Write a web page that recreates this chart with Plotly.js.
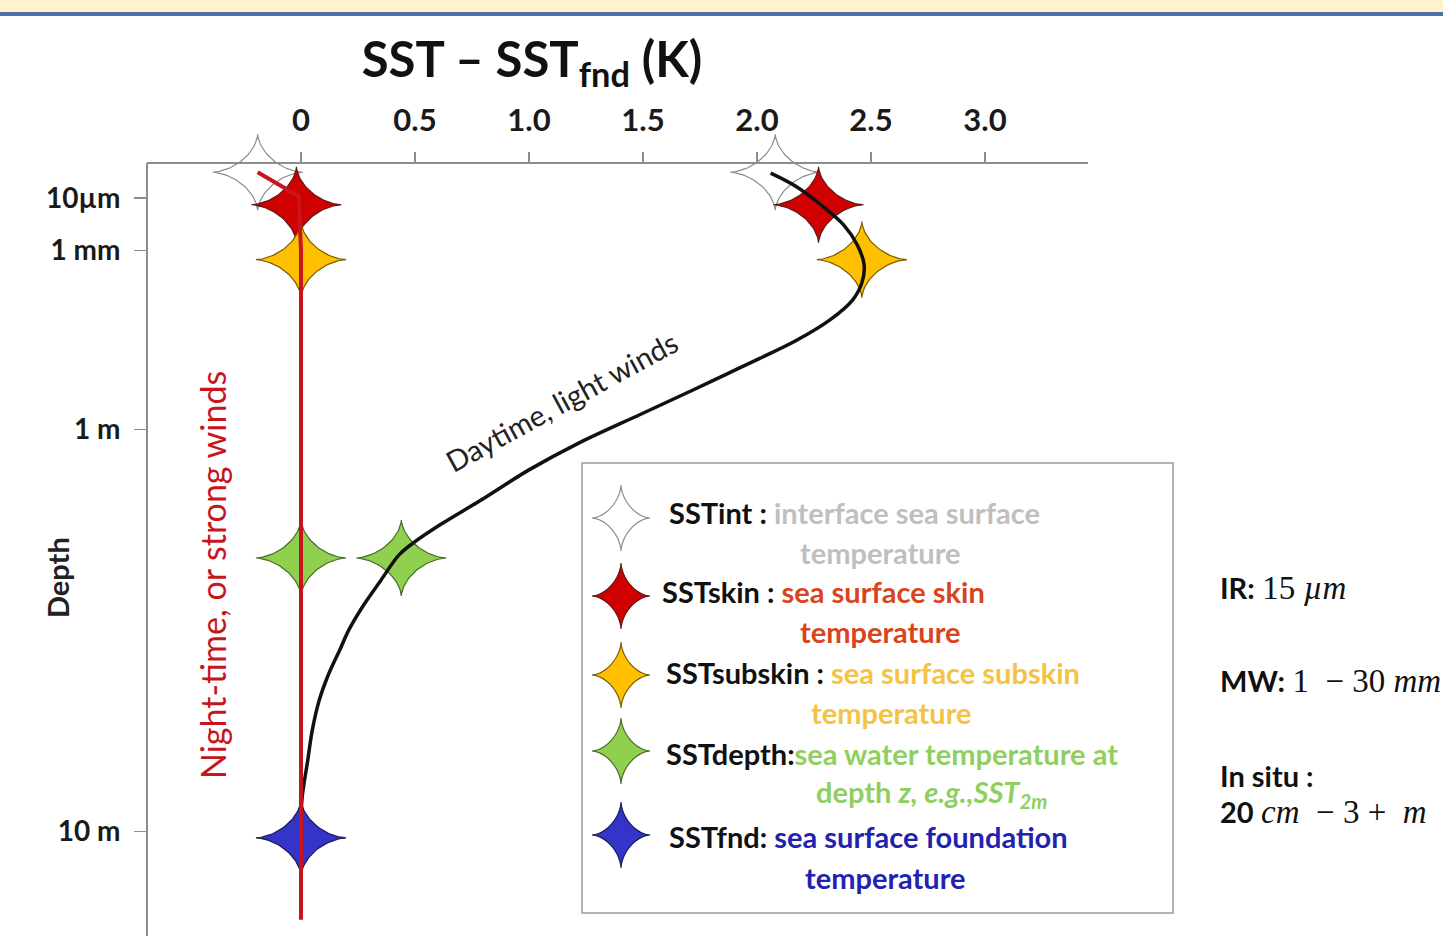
<!DOCTYPE html>
<html><head><meta charset="utf-8">
<script src="https://cdn.plot.ly/plotly-3.0.1.min.js"></script>
<style>html,body{margin:0;padding:0;background:#fff;} #chart{width:1443px;height:936px;}</style>
</head><body><div id="chart"></div>
<script>
// ---------- data ----------
const xTickVals = [0, 0.5, 1.0, 1.5, 2.0, 2.5, 3.0];
const xTickText = ['0', '0.5', '1.0', '1.5', '2.0', '2.5', '3.0'];
const depthTickPos = [4.5, 11.3, 34.5, 86.5];
const depthTickText = ['10µm', '1 mm', '1 m', '10 m'];

const levels = ['SSTint', 'SSTskin', 'SSTsubskin', 'SSTdepth', 'SSTfnd'];
const levelDepth = [1.2, 5.4, 12.5, 51.1, 87.3];
const nightDiff = [-0.19, -0.02, 0.0, 0.0, 0.0];
const dayDiff = [2.08, 2.27, 2.46, 0.44, 0.0];

const dayCurveX = [2.06, 2.17, 2.28, 2.38, 2.44, 2.47, 2.46, 2.42, 2.32, 2.17, 2.01, 1.86, 1.71, 1.49, 1.22, 1.00, 0.79, 0.61, 0.49, 0.43, 0.35, 0.27, 0.21, 0.17, 0.12, 0.08, 0.05, 0.03, 0.004, 0.0];
const dayCurveY = [1.3, 3.0, 5.4, 8.0, 10.6, 13.2, 15.5, 17.7, 20.3, 23.0, 25.3, 27.4, 29.5, 32.5, 36.2, 39.7, 43.6, 46.8, 49.2, 50.7, 54.0, 57.4, 60.4, 63.0, 66.2, 69.5, 73.3, 77.2, 82.4, 87.3];

const nightLineX = [-0.19, -0.01, 0.0, 0.0];
const nightLineY = [1.2, 4.3, 11.3, 97.9];

const descLine1 = ['interface sea surface', 'sea surface skin', 'sea surface subskin', 'sea water temperature at', 'sea surface foundation'];
const descLine2 = ['temperature', 'temperature', 'temperature', 'depth <i>z, e.g.,SST<sub>2m</sub></i>', 'temperature'];
const labelSep = [' : ', ' : ', ' : ', ':', ': '];

const SERIF = 'font-family:\'Liberation Serif\',serif;font-size:33px';
const sensorText = [
  '<b>IR:</b> <span style="' + SERIF + '">15 <i>µm</i></span>',
  '<b>MW:</b> <span style="' + SERIF + '">1&nbsp;&nbsp;−&nbsp;30&nbsp;<i>mm</i></span>',
  '<b>In situ :</b>',
  '<b>20</b> <span style="' + SERIF + '"><i>cm</i>&nbsp;&nbsp;−&nbsp;3&nbsp;+&nbsp;&nbsp;<i>m</i></span>'
];

// ---------- styles / layout geometry ----------
const starFill = ['#FFFFFF', '#D00000', '#FFC000', '#8FD14F', '#3434C8'];
const starEdge = ['#8C8C8C', '#5A1A1A', '#7A5A00', '#4A6A2A', '#1A1A5A'];
const descColor = ['#BFBFBF', '#D9441E', '#F5C242', '#8FCF5F', '#2222B0'];

const FIG_W = 1443, FIG_H = 936;
const ML = 147, MR = 355, MT = 110, MB = 0;
const PW = FIG_W - ML - MR, PH = FIG_H - MT - MB;
const XR = [-0.6754, 3.4518];
const YR = [100, -6.856];
const kx = PW / (XR[1] - XR[0]);
const ky = PH / (YR[0] - YR[1]);
const PX = px => (px - ML) / PW;
const PY = py => 1 - (py - MT) / PH;
const FONT = 'Lato, "Open Sans", sans-serif';

function starPts(W, H) {
  const k = 3.2, n = 160, pts = [];
  for (let i = 0; i <= n; i++) {
    const t = 2 * Math.PI * i / n, c = Math.cos(t), s = Math.sin(t);
    pts.push([W * Math.sign(c) * Math.pow(Math.abs(c), k), H * Math.sign(s) * Math.pow(Math.abs(s), k)]);
  }
  return pts;
}
function starTrace(cx, cy, i) {
  const p = starPts(45, 38);
  return {
    x: p.map(q => cx + q[0] / kx), y: p.map(q => cy - q[1] / ky),
    mode: 'lines', fill: 'toself', fillcolor: starFill[i],
    line: {color: starEdge[i], width: 1.2}, hoverinfo: 'skip', showlegend: false
  };
}

const traces = [];
for (let i = 0; i < levels.length; i++) traces.push(starTrace(nightDiff[i], levelDepth[i], i));
for (let i = 0; i < levels.length - 1; i++) traces.push(starTrace(dayDiff[i], levelDepth[i], i));
traces.push({x: dayCurveX, y: dayCurveY, mode: 'lines', line: {color: '#111', width: 3.5, shape: 'spline', smoothing: 1}, hoverinfo: 'skip', showlegend: false});
traces.push({x: nightLineX, y: nightLineY, mode: 'lines', line: {color: '#C8141C', width: 4}, hoverinfo: 'skip', showlegend: false});

// ---------- shapes ----------
const shapes = [
  {type: 'rect', xref: 'paper', yref: 'paper', x0: PX(0), x1: PX(FIG_W), y0: PY(0), y1: PY(12), fillcolor: '#FFF2CC', line: {width: 0}},
  {type: 'rect', xref: 'paper', yref: 'paper', x0: PX(0), x1: PX(FIG_W), y0: PY(12), y1: PY(16), fillcolor: '#4A74A8', line: {width: 0}},
  {type: 'line', xref: 'paper', yref: 'paper', x0: 0, x1: 0, y0: PY(163), y1: PY(FIG_H), line: {color: '#8C8C8C', width: 2}},
  {type: 'rect', xref: 'paper', yref: 'paper', x0: PX(582), x1: PX(1173), y0: PY(463), y1: PY(913), fillcolor: '#FFFFFF', line: {color: '#9A9A9A', width: 1.5}, layer: 'below'}
];
const legStarX = 621, legStarY = [518, 596, 675, 751, 835];
const legPath = 'M' + starPts(29, 33).map(q => q[0].toFixed(2) + ',' + q[1].toFixed(2)).join('L') + 'Z';
for (let i = 0; i < levels.length; i++) {
  shapes.push({type: 'path', xref: 'paper', yref: 'paper', xsizemode: 'pixel', ysizemode: 'pixel',
    xanchor: PX(legStarX), yanchor: PY(legStarY[i]), path: legPath,
    fillcolor: starFill[i], line: {color: starEdge[i], width: 1.2}});
}

// ---------- annotations ----------
const ann = [];
const labX = [667, 660, 664, 664, 667], labY = [512, 591, 672, 753, 836];
const l2X = [880, 880, 891, 931, 885], l2Y = [552, 631, 712, 793, 877];
for (let i = 0; i < levels.length; i++) {
  ann.push({xref: 'paper', yref: 'paper', x: PX(labX[i]), y: PY(labY[i]), xanchor: 'left', yanchor: 'middle', showarrow: false,
    text: '<b>' + levels[i] + labelSep[i] + '</b><span style="color:' + descColor[i] + '"><b>' + descLine1[i] + '</b></span>',
    font: {family: FONT, size: 29, color: '#111'}});
  ann.push({xref: 'paper', yref: 'paper', x: PX(l2X[i]), y: PY(l2Y[i]), xanchor: 'center', yanchor: 'middle', showarrow: false,
    text: '<b>' + descLine2[i] + '</b>', font: {family: FONT, size: 29, color: descColor[i]}});
}
ann.push({xref: 'paper', yref: 'paper', x: PX(212), y: PY(575), xanchor: 'center', yanchor: 'middle', textangle: -90, showarrow: false,
  text: 'Night-time, or strong winds', font: {family: FONT, size: 34, color: '#C8141C'}});
ann.push({xref: 'paper', yref: 'paper', x: PX(561), y: PY(401), xanchor: 'center', yanchor: 'middle', textangle: -28.6, showarrow: false,
  text: 'Daytime, light winds', font: {family: FONT, size: 29, color: '#222'}});
ann.push({xref: 'paper', yref: 'paper', x: PX(57), y: PY(578), xanchor: 'center', yanchor: 'middle', textangle: -90, showarrow: false,
  text: '<b>Depth</b>', font: {family: FONT, size: 29, color: '#222'}});
const sensY = [588, 681, 775, 812];
for (let i = 0; i < sensorText.length; i++) {
  ann.push({xref: 'paper', yref: 'paper', x: PX(1218), y: PY(sensY[i]), xanchor: 'left', yanchor: 'middle', showarrow: false,
    text: sensorText[i], font: {family: FONT, size: 29, color: '#111'}});
}

const layout = {
  width: FIG_W, height: FIG_H,
  margin: {l: ML, r: MR, t: MT, b: MB},
  paper_bgcolor: '#FFFFFF', plot_bgcolor: 'rgba(0,0,0,0)',
  showlegend: false,
  title: {text: '<b>SST – SST<sub>fnd</sub> (K)</b>', xref: 'container', yref: 'container', x: 532 / FIG_W, xanchor: 'center', y: 1 - 60 / FIG_H, yanchor: 'middle',
    font: {family: FONT, size: 49, color: '#111'}},
  xaxis: {range: XR, side: 'top', anchor: 'free', position: PY(163), showline: true, linecolor: '#8C8C8C', linewidth: 2,
    tickmode: 'array', tickvals: xTickVals, ticktext: xTickText, ticks: 'outside', ticklen: 10, tickwidth: 1.5, tickcolor: '#8C8C8C',
    tickfont: {family: FONT, size: 31, color: '#1A1A1A', weight: 'bold'}, ticklabelstandoff: 9,
    showgrid: false, zeroline: false, automargin: false, fixedrange: true},
  yaxis: {range: YR, showline: false, tickmode: 'array', tickvals: depthTickPos, ticktext: depthTickText,
    ticks: 'outside', ticklen: 12, tickwidth: 1.5, tickcolor: '#8C8C8C',
    tickfont: {family: FONT, size: 28, color: '#1A1A1A', weight: 'bold'}, ticklabelstandoff: 8,
    showgrid: false, zeroline: false, automargin: false, fixedrange: true},
  shapes: shapes, annotations: ann
};
Plotly.newPlot('chart', traces, layout, {displayModeBar: false, staticPlot: true});
</script></body></html>
